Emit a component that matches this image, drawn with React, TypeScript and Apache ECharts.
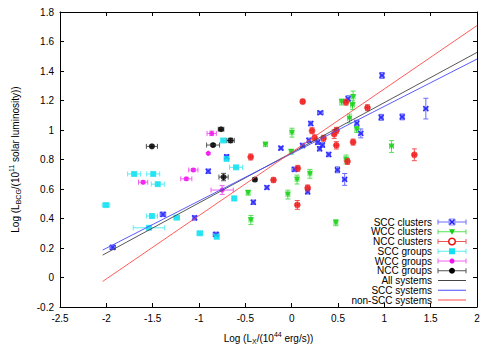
import React, { useEffect, useRef } from 'react';
import * as echarts from 'echarts';

// [x, y, xerr, yerr]
type Pt = [number, number, number, number];

const sccClusters: Pt[] = [
  [-1.931, 0.204, 0.03, 0.015], [-1.389, 0.428, 0.03, 0.015], [-1.047, 0.404, 0.02, 0.015],
  [-0.817, 0.292, 0.03, 0.015], [-0.9, 0.72, 0.02, 0.015], [-0.702, 0.818, 0.02, 0.015],
  [-0.414, 0.51, 0.02, 0.015], [-0.267, 0.61, 0.02, 0.012], [-0.116, 0.877, 0.02, 0.012],
  [0.033, 0.733, 0.03, 0.015], [0.117, 0.895, 0.02, 0.015], [0.173, 0.581, 0.02, 0.015],
  [0.187, 0.93, 0.02, 0.015], [0.206, 1.044, 0.02, 0.015], [0.281, 0.917, 0.02, 0.015],
  [0.302, 0.873, 0.02, 0.015], [0.332, 0.898, 0.02, 0.015], [0.309, 1.117, 0.03, 0.01],
  [0.4, 0.834, 0.02, 0.015], [0.494, 0.73, 0.02, 0.02], [0.572, 0.665, 0.02, 0.04],
  [0.609, 1.212, 0.02, 0.02], [0.703, 1.046, 0.02, 0.02], [0.746, 0.977, 0.02, 0.03],
  [0.966, 1.086, 0.02, 0.02], [0.975, 1.37, 0.02, 0.02], [1.193, 1.089, 0.02, 0.02],
  [1.448, 1.145, 0.02, 0.07],
];

const wccClusters: Pt[] = [
  [-0.47, 0.574, 0.02, 0.015], [-0.44, 0.39, 0.02, 0.03], [-0.283, 0.901, 0.02, 0.012],
  [-0.041, 0.562, 0.02, 0.03], [-0.005, 0.852, 0.02, 0.015], [0.003, 0.982, 0.02, 0.03],
  [0.058, 0.664, 0.02, 0.03], [0.197, 0.703, 0.02, 0.03], [0.477, 0.371, 0.02, 0.02],
  [0.54, 1.19, 0.02, 0.02], [0.587, 0.8, 0.02, 0.03], [0.624, 1.078, 0.02, 0.03],
  [0.656, 1.168, 0.02, 0.03], [0.663, 1.224, 0.02, 0.04], [0.703, 1.003, 0.02, 0.02],
  [1.078, 0.888, 0.02, 0.04],
];

const nccClusters: Pt[] = [
  [-0.442, 0.817, 0.02, 0.02], [-0.196, 0.661, 0.02, 0.015], [0.061, 0.492, 0.02, 0.03],
  [0.066, 0.74, 0.02, 0.02], [0.119, 1.193, 0.02, 0.015], [0.173, 0.607, 0.02, 0.02],
  [0.22, 0.995, 0.02, 0.02], [0.248, 0.947, 0.02, 0.02], [0.344, 0.944, 0.02, 0.02],
  [0.459, 0.972, 0.02, 0.03], [0.484, 0.998, 0.02, 0.02], [0.482, 0.896, 0.02, 0.025],
  [0.587, 1.189, 0.02, 0.02], [0.602, 0.787, 0.02, 0.02], [0.663, 0.918, 0.02, 0.02],
  [0.818, 1.151, 0.02, 0.02], [1.324, 0.832, 0.02, 0.04],
];

const sccGroups: Pt[] = [
  [-2.004, 0.491, 0.04, 0.01], [-1.7, 0.702, 0.07, 0.01], [-1.494, 0.702, 0.07, 0.01],
  [-1.445, 0.633, 0.07, 0.01], [-1.508, 0.417, 0.06, 0.01], [-1.54, 0.337, 0.17, 0.01],
  [-1.24, 0.406, 0.03, 0.01], [-0.991, 0.3, 0.03, 0.01], [-0.809, 0.276, 0.02, 0.01],
  [-0.736, 0.929, 0.03, 0.01], [-0.702, 0.804, 0.02, 0.01], [-0.601, 0.747, 0.07, 0.01],
  [-0.62, 0.536, 0.02, 0.015],
];

const wccGroups: Pt[] = [
  [-1.603, 0.646, 0.05, 0.01], [-1.137, 0.669, 0.06, 0.01], [-1.061, 0.729, 0.05, 0.01],
  [-0.9, 0.842, 0.005, 0.005], [-0.863, 0.977, 0.05, 0.015], [-0.75, 0.593, 0.12, 0.03],
];

const nccGroups: Pt[] = [
  [-1.508, 0.889, 0.06, 0.01], [-0.848, 0.898, 0.07, 0.01], [-0.762, 1.005, 0.03, 0.01],
  [-0.659, 0.929, 0.04, 0.015], [-0.735, 0.681, 0.05, 0.025], [-0.397, 0.664, 0.02, 0.01],
];

const fitAll: [number, number][] = [[-2.04, 0.152], [2, 1.526]];
const fitScc: [number, number][] = [[-2.04, 0.186], [2, 1.481]];
const fitNonScc: [number, number][] = [[-2.04, -0.027], [2, 1.708]];

const xMin = -2.5, xMax = 2, xStep = 0.5;
const yMin = -0.2, yMax = 1.8, yStep = 0.2;

const pointSeriesNames = ['SCC clusters', 'WCC clusters', 'NCC clusters', 'SCC groups', 'WCC groups', 'NCC groups'];
const lineSeriesNames = ['All systems', 'SCC systems', 'non-SCC systems'];

const FONT = '"Liberation Sans", Arial, sans-serif';

type Kind = 'x' | 'tri' | 'ring' | 'square' | 'dot' | 'bigdot';

const pointDefs: { name: string; data: Pt[]; color: string; bar: string; kind: Kind }[] = [
  { name: pointSeriesNames[0], data: sccClusters, color: '#1a1aff', bar: '#6a6aff', kind: 'x' },
  { name: pointSeriesNames[1], data: wccClusters, color: '#10d010', bar: '#55e055', kind: 'tri' },
  { name: pointSeriesNames[2], data: nccClusters, color: '#ee1111', bar: '#f05555', kind: 'ring' },
  { name: pointSeriesNames[3], data: sccGroups, color: '#10e0f0', bar: '#55eef5', kind: 'square' },
  { name: pointSeriesNames[4], data: wccGroups, color: '#f010f0', bar: '#f060f0', kind: 'dot' },
  { name: pointSeriesNames[5], data: nccGroups, color: '#000000', bar: '#555555', kind: 'bigdot' },
];

const lineDefs = [
  { name: lineSeriesNames[0], data: fitAll, color: '#444444' },
  { name: lineSeriesNames[1], data: fitScc, color: '#4a4aff' },
  { name: lineSeriesNames[2], data: fitNonScc, color: '#ff4a4a' },
];

function symbolFor(kind: Kind): any {
  switch (kind) {
    case 'x':
      return { symbol: 'path://M0,0L10,10M10,0L0,10', symbolSize: 5 };
    case 'tri':
      return { symbol: 'triangle', symbolSize: 6, symbolRotate: 180 };
    case 'ring':
      return { symbol: 'circle', symbolSize: 6 };
    case 'square':
      return { symbol: 'rect', symbolSize: 6 };
    case 'dot':
      return { symbol: 'circle', symbolSize: 5 };
    default:
      return { symbol: 'circle', symbolSize: 6 };
  }
}

function errRender(color: string) {
  return (_params: any, api: any) => {
    const x = api.value(0), y = api.value(1), ex = api.value(2), ey = api.value(3);
    const c = api.coord([x, y]);
    const l = api.coord([x - ex, y]);
    const r = api.coord([x + ex, y]);
    const t = api.coord([x, y + ey]);
    const b = api.coord([x, y - ey]);
    const cap = 2.5;
    const style = { stroke: color, lineWidth: 1 };
    return {
      type: 'group',
      children: [
        { type: 'line', shape: { x1: l[0], y1: c[1], x2: r[0], y2: c[1] }, style },
        { type: 'line', shape: { x1: l[0], y1: c[1] - cap, x2: l[0], y2: c[1] + cap }, style },
        { type: 'line', shape: { x1: r[0], y1: c[1] - cap, x2: r[0], y2: c[1] + cap }, style },
        { type: 'line', shape: { x1: c[0], y1: t[1], x2: c[0], y2: b[1] }, style },
        { type: 'line', shape: { x1: c[0] - cap, y1: t[1], x2: c[0] + cap, y2: t[1] }, style },
        { type: 'line', shape: { x1: c[0] - cap, y1: b[1], x2: c[0] + cap, y2: b[1] }, style },
      ],
    };
  };
}

function legendMarker(kind: Kind, cx: number, cy: number, color: string): any {
  switch (kind) {
    case 'x':
      return [
        { type: 'rect', shape: { x: cx - 3, y: cy - 3, width: 6, height: 6 }, style: { fill: 'none', stroke: '#8a8aff', lineWidth: 1 } },
        { type: 'line', shape: { x1: cx - 2.5, y1: cy - 2.5, x2: cx + 2.5, y2: cy + 2.5 }, style: { stroke: color, lineWidth: 1.5 } },
        { type: 'line', shape: { x1: cx + 2.5, y1: cy - 2.5, x2: cx - 2.5, y2: cy + 2.5 }, style: { stroke: color, lineWidth: 1.5 } },
      ];
    case 'tri':
      return [{ type: 'polygon', shape: { points: [[cx - 3, cy - 2.5], [cx + 3, cy - 2.5], [cx, cy + 3]] }, style: { fill: color } }];
    case 'ring':
      return [{ type: 'circle', shape: { cx, cy, r: 3.3 }, style: { fill: '#fff', stroke: color, lineWidth: 1.5 } }];
    case 'square':
      return [{ type: 'rect', shape: { x: cx - 3, y: cy - 3, width: 6, height: 6 }, style: { fill: color } }];
    case 'dot':
      return [{ type: 'circle', shape: { cx, cy, r: 2.5 }, style: { fill: color } }];
    default:
      return [{ type: 'circle', shape: { cx, cy, r: 3 }, style: { fill: color } }];
  }
}

function buildLegend(): any[] {
  const els: any[] = [];
  const textRight = 432;
  const lx1 = 438, lx2 = 466, lcx = 452;
  const y0 = 222, dy = 9.75;
  pointDefs.forEach((d, i) => {
    const y = y0 + i * dy;
    els.push({ type: 'text', x: textRight, y, style: { text: d.name, font: `10px ${FONT}`, fill: '#000', align: 'right', verticalAlign: 'middle' } });
    const st = { stroke: d.bar, lineWidth: 1 };
    els.push({ type: 'line', shape: { x1: lx1, y1: y, x2: lx2, y2: y }, style: st });
    els.push({ type: 'line', shape: { x1: lx1, y1: y - 2.5, x2: lx1, y2: y + 2.5 }, style: st });
    els.push({ type: 'line', shape: { x1: lx2, y1: y - 2.5, x2: lx2, y2: y + 2.5 }, style: st });
    legendMarker(d.kind, lcx, y, d.color).forEach((m: any) => els.push(m));
  });
  lineDefs.forEach((d, j) => {
    const y = y0 + (pointDefs.length + j) * dy;
    els.push({ type: 'text', x: textRight, y, style: { text: d.name, font: `10px ${FONT}`, fill: '#000', align: 'right', verticalAlign: 'middle' } });
    els.push({ type: 'line', shape: { x1: lx1, y1: y, x2: lx2, y2: y }, style: { stroke: d.color, lineWidth: 1 } });
  });
  return els;
}

export default function App() {
  const ref = useRef<HTMLDivElement>(null);
  useEffect(() => {
    if (!ref.current) return;
    const chart = echarts.init(ref.current, undefined, { renderer: 'svg' });
    const axisCommon = {
      type: 'value' as const,
      axisLine: { show: true, onZero: false, lineStyle: { color: '#000', width: 1 } },
      axisTick: { show: true, inside: true, length: 4, lineStyle: { color: '#000' } },
      splitLine: { show: false },
    };
    const series: any[] = [];
    pointDefs.forEach((d) => {
      series.push({
        type: 'custom',
        name: d.name + ' err',
        renderItem: errRender(d.bar),
        data: d.data,
        encode: { x: 0, y: 1 },
        clip: true,
        z: 2,
      });
    });
    pointDefs.forEach((d) => {
      const s = symbolFor(d.kind);
      const itemStyle: any =
        d.kind === 'x'
          ? { color: d.color, borderColor: d.color, borderWidth: 1.6 }
          : d.kind === 'ring'
          ? { color: '#f01818', borderColor: '#f04040', borderWidth: 0.8 }
          : { color: d.color };
      series.push({
        type: 'scatter',
        name: d.name,
        data: d.data.map((p) => [p[0], p[1]]),
        ...s,
        itemStyle,
        z: 3,
      });
    });
    lineDefs.forEach((d) => {
      series.push({
        type: 'line',
        name: d.name,
        data: d.data,
        showSymbol: false,
        symbol: 'none',
        lineStyle: { color: d.color, width: 0.9 },
        z: 4,
      });
    });

    chart.setOption({
      animation: false,
      backgroundColor: '#fff',
      textStyle: { fontFamily: FONT },
      grid: { left: 48, top: 12, right: 23, bottom: 41, containLabel: false },
      xAxis: [
        {
          ...axisCommon,
          position: 'bottom',
          min: xMin,
          max: xMax,
          interval: xStep,
          axisLabel: { color: '#000', fontSize: 10, margin: 6, fontFamily: FONT },
          name: 'Log (L{sub|X}/(10{sup|44} erg/s))',
          nameLocation: 'middle',
          nameGap: 24,
          nameTextStyle: {
            color: '#000',
            fontSize: 10,
            fontFamily: FONT,
            lineHeight: 14,
            rich: {
              sub: { fontSize: 7, lineHeight: 7, verticalAlign: 'bottom', fontFamily: FONT, color: '#000' },
              sup: { fontSize: 7, lineHeight: 7, verticalAlign: 'top', fontFamily: FONT, color: '#000' },
            },
          },
        },
        {
          ...axisCommon,
          position: 'top',
          min: xMin,
          max: xMax,
          interval: xStep,
          axisLabel: { show: false },
        },
      ],
      yAxis: [
        {
          ...axisCommon,
          position: 'left',
          min: yMin,
          max: yMax,
          interval: yStep,
          axisLabel: { color: '#000', fontSize: 10, margin: 6, fontFamily: FONT },
          name: 'Log (L{sub|BCG}/(10{sup|11} solar luminosity))',
          nameLocation: 'middle',
          nameRotate: 90,
          nameGap: 38,
          nameTextStyle: {
            color: '#000',
            fontSize: 10,
            fontFamily: FONT,
            lineHeight: 14,
            rich: {
              sub: { fontSize: 7, lineHeight: 7, verticalAlign: 'bottom', fontFamily: FONT, color: '#000' },
              sup: { fontSize: 7, lineHeight: 7, verticalAlign: 'top', fontFamily: FONT, color: '#000' },
            },
          },
        },
        {
          ...axisCommon,
          position: 'right',
          min: yMin,
          max: yMax,
          interval: yStep,
          axisLabel: { show: false },
        },
      ],
      series,
      graphic: buildLegend(),
    });
    return () => chart.dispose();
  }, []);
  return (
    <div
      ref={ref}
      style={{ position: 'fixed', left: 0, top: 0, width: 500, height: 350, background: '#fff' }}
    />
  );
}
